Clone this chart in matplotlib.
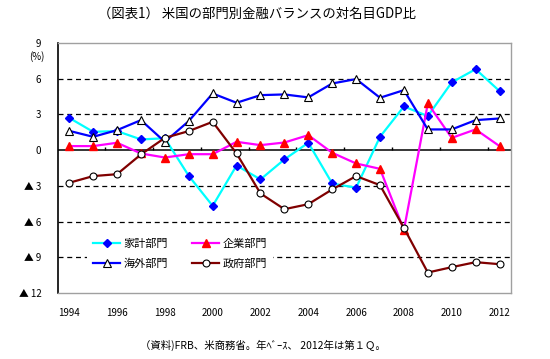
import matplotlib
matplotlib.use("Agg")
import matplotlib.pyplot as plt

plt.rcParams['font.family'] = ['Noto Sans CJK JP', 'DejaVu Sans']

years = list(range(1994, 2013))
household = [2.71, 1.54, 1.6, 0.9, 1.0, -2.16, -4.68, -1.29, -2.46, -0.78, 0.62,
             -2.8, -3.16, 1.12, 3.67, 2.86, 5.69, 6.8, 4.96]
corporate = [0.34, 0.34, 0.62, -0.28, -0.62, -0.34, -0.34, 0.7, 0.42, 0.64, 1.26,
             -0.22, -1.12, -1.57, -6.7, 3.92, 1.03, 1.74, 0.34]
foreign = [1.62, 1.12, 1.68, 2.52, 0.7, 2.44, 4.76, 3.98, 4.62, 4.68, 4.43,
           5.6, 5.97, 4.4, 5.04, 1.74, 1.74, 2.52, 2.66]
government = [-2.74, -2.18, -2.02, -0.36, 1.03, 1.6, 2.38, -0.28, -3.64, -4.96, -4.54,
              -3.3, -2.18, -2.94, -6.53, -10.28, -9.83, -9.41, -9.58]

series_names = ['家計部門', '企業部門', '海外部門', '政府部門']
ytick_vals = [9, 6, 3, 0, -3, -6, -9, -12]
ytick_labels = ['9', '6', '3', '0', '▲ 3', '▲ 6', '▲ 9', '▲ 12']
xtick_vals = list(range(1994, 2013, 2))
xtick_labels = [str(y) for y in xtick_vals]
title = '（図表1） 米国の部門別金融バランスの対名目GDP比'
note = '（資料)FRB、米商務省。年ﾍﾞｰｽ、 2012年は第１Ｑ。'

W, H = 550, 359
fig = plt.figure(figsize=(W / 100, H / 100), dpi=100)
ax = fig.add_axes([58 / W, 1 - 293 / H, (511 - 58) / W, 250 / H])

ax.set_xlim(1993.53, 2012.48)
ax.set_ylim(-12, 9)

# grid lines
for v in [6, 3, -3, -6, -9]:
    ax.axhline(v, color='black', lw=0.9, ls=(0, (4, 3)), zorder=1)
ax.axhline(0, color='black', lw=1.1, zorder=2)
# small category ticks on the zero line
ax.vlines([y + 0.5 for y in range(1995, 2012, 2)], 0, 0.3, color='black', lw=1, zorder=2)

ax.plot(years, household, color='#00ffff', lw=1.6, marker='D', ms=4.5,
        mfc='#0000ff', mec='#0000ff', label=series_names[0], zorder=3)
ax.plot(years, corporate, color='#ff00ff', lw=1.6, marker='^', ms=6,
        mfc='#ff0000', mec='#ff0000', label=series_names[1], zorder=3)
ax.plot(years, foreign, color='#0000ff', lw=1.6, marker='^', ms=5.5,
        mfc='white', mec='black', mew=0.8, label=series_names[2], zorder=3)
ax.plot(years, government, color='#800000', lw=1.6, marker='o', ms=5,
        mfc='white', mec='black', mew=0.8, label=series_names[3], zorder=3)

ax.set_yticks(ytick_vals)
ax.set_yticklabels(ytick_labels, fontsize=7)
ax.set_xticks(xtick_vals)
ax.set_xticklabels(xtick_labels, fontsize=7)
ax.tick_params(axis='both', length=0)
ax.tick_params(axis='x', pad=11)
ax.tick_params(axis='y', pad=12)

for s in ['top', 'right', 'bottom']:
    ax.spines[s].set_color('#a0a0a0')
    ax.spines[s].set_linestyle((0, (1, 1)))
    ax.spines[s].set_linewidth(1)
ax.spines['left'].set_color('black')
ax.spines['left'].set_linewidth(1.2)

fig.text(45 / W, 1 - 57 / H, '(%)', fontsize=7, ha='right', va='center')

handles, labels = ax.get_legend_handles_labels()
order = [0, 2, 1, 3]
leg = ax.legend([handles[i] for i in order], [labels[i] for i in order],
                ncol=2, loc='center', bbox_to_anchor=((180 - 58) / 453, (293 - 254) / 250),
                fontsize=8, frameon=True, facecolor='white', edgecolor='none',
                framealpha=1, handlelength=2.4, columnspacing=2.2, labelspacing=0.8,
                handletextpad=0.3, borderpad=0.6, fancybox=False)
leg.set_zorder(5)

fig.text(257 / W, 1 - 14 / H, title, fontsize=9.6, ha='center', va='center')
fig.text(140 / W, 1 - 345 / H, note, fontsize=7.5, ha='left', va='center')

fig.savefig('out.png', dpi=100)
